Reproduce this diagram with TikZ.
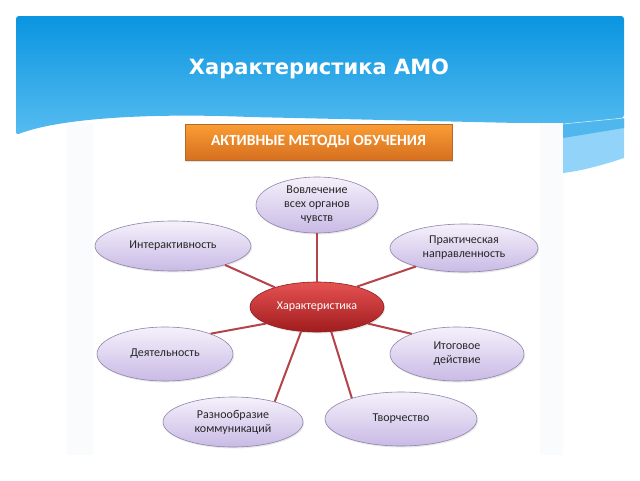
\documentclass[tikz,border=0pt]{standalone}
\usepackage{fontspec}
\setmainfont{Carlito}
\newfontfamily\titlefont{DejaVu Sans}
\usetikzlibrary{shapes.geometric,shadows}

\definecolor{hdtop}{HTML}{0A95E0}
\definecolor{hdbot}{HTML}{56BCF0}
\definecolor{bandmid}{HTML}{4FB6EE}
\definecolor{bandlow}{HTML}{92D4F9}
\definecolor{panelgray}{HTML}{FAFBFD}
\definecolor{boxtop}{HTML}{FA9D35}
\definecolor{boxbot}{HTML}{D66F1F}
\definecolor{boxrim}{HTML}{B5682C}
\definecolor{ovaltop}{HTML}{F5F1FB}
\definecolor{ovalbot}{HTML}{C9BAE5}
\definecolor{ovalrim}{HTML}{8E84A8}
\definecolor{ovaltext}{HTML}{262626}
\definecolor{redtop}{HTML}{E65252}
\definecolor{redmid}{HTML}{C92B2C}
\definecolor{redbot}{HTML}{A01C1E}
\definecolor{redrim}{HTML}{8C1B1E}
\definecolor{linkred}{HTML}{B4434A}

\tikzset{
  oval/.style={ellipse, draw=ovalrim, line width=0.6pt, top color=ovaltop,
    bottom color=ovalbot, inner sep=0pt, align=center, text=ovaltext,
    font=\fontsize{12}{14}\selectfont,
    drop shadow={opacity=0.18, shadow xshift=1pt, shadow yshift=-1.5pt}},
  link/.style={draw=linkred, line width=2pt},
}

\begin{document}
\begin{tikzpicture}[x=1pt,y=-1pt]
\useasboundingbox (0,0) rectangle (640,480);
% header of the slide
\shade[top color=hdtop, bottom color=hdbot, rounded corners=3pt]
  (16,135) -- (16,16) -- (624,16) -- (624,118) -- (563,124) -- (250,117)
  .. controls (150,113) and (60,118) .. (16,135) -- cycle;
\fill[bandlow] (563,124) -- (624,118) -- (624,158)
  .. controls (600,166) and (580,171) .. (563,173) -- cycle;
\fill[bandmid] (563,124) -- (624,118) -- (624,128) -- (563,138) -- cycle;
\draw[white, opacity=0.6, line width=0.6pt] (563,124) -- (624,118);
\node[font=\titlefont\bfseries\fontsize{21}{24}\selectfont, text=white] (title) at (319,69) {Характеристика АМО};
% picture panel
\fill[panelgray] (67,123) rectangle (563,455);
\fill[white] (93,123) rectangle (540,455);
\node[draw=boxrim, line width=0.5pt, top color=boxtop, bottom color=boxbot,
  minimum width=267pt, minimum height=36pt, inner sep=0pt, text=white,
  font=\bfseries\fontsize{15.5}{17}\selectfont,
  drop shadow={opacity=0.25, shadow xshift=1pt, shadow yshift=-1.5pt}] (amo) at (318.5,142) {АКТИВНЫЕ МЕТОДЫ ОБУЧЕНИЯ};
% ovals
\node[oval, minimum width=122pt, minimum height=56pt] (sens) at (317,205) {Вовлечение\\всех органов\\чувств};
\node[oval, minimum width=156pt, minimum height=50pt] (inter) at (173,246) {Интерактивность};
\node[oval, minimum width=148pt, minimum height=48pt] (prac) at (464,248) {Практическая\\направленность};
\node[oval, minimum width=136pt, minimum height=54pt] (deyat) at (165,354) {Деятельность};
\node[oval, minimum width=134pt, minimum height=54pt] (itog) at (457,354) {Итоговое\\действие};
\node[oval, minimum width=140pt, minimum height=50pt] (razn) at (233,422) {Разнообразие\\коммуникаций};
\node[oval, minimum width=152pt, minimum height=54pt] (tvor) at (401,419) {Творчество};
\node[ellipse, draw=redrim, line width=0.6pt, top color=redtop, middle color=redmid, bottom color=redbot,
  minimum width=134pt, minimum height=50pt, inner sep=0pt, text=white,
  font=\fontsize{12}{14}\selectfont,
  drop shadow={opacity=0.2, shadow xshift=1pt, shadow yshift=-1.5pt}] (char) at (317,307) {Характеристика};
% links
\path[link] (char.north) -- (sens.south);
\path[link] (char.155) -- (inter.-20);
\path[link] (char.27) -- (prac.201);
\path[link] (char.198) -- (deyat.24);
\path[link] (char.-18) -- (itog.156);
\path[link] (char.237) -- (razn.26);
\path[link] (char.-60) -- (tvor.157);
\end{tikzpicture}
\end{document}
